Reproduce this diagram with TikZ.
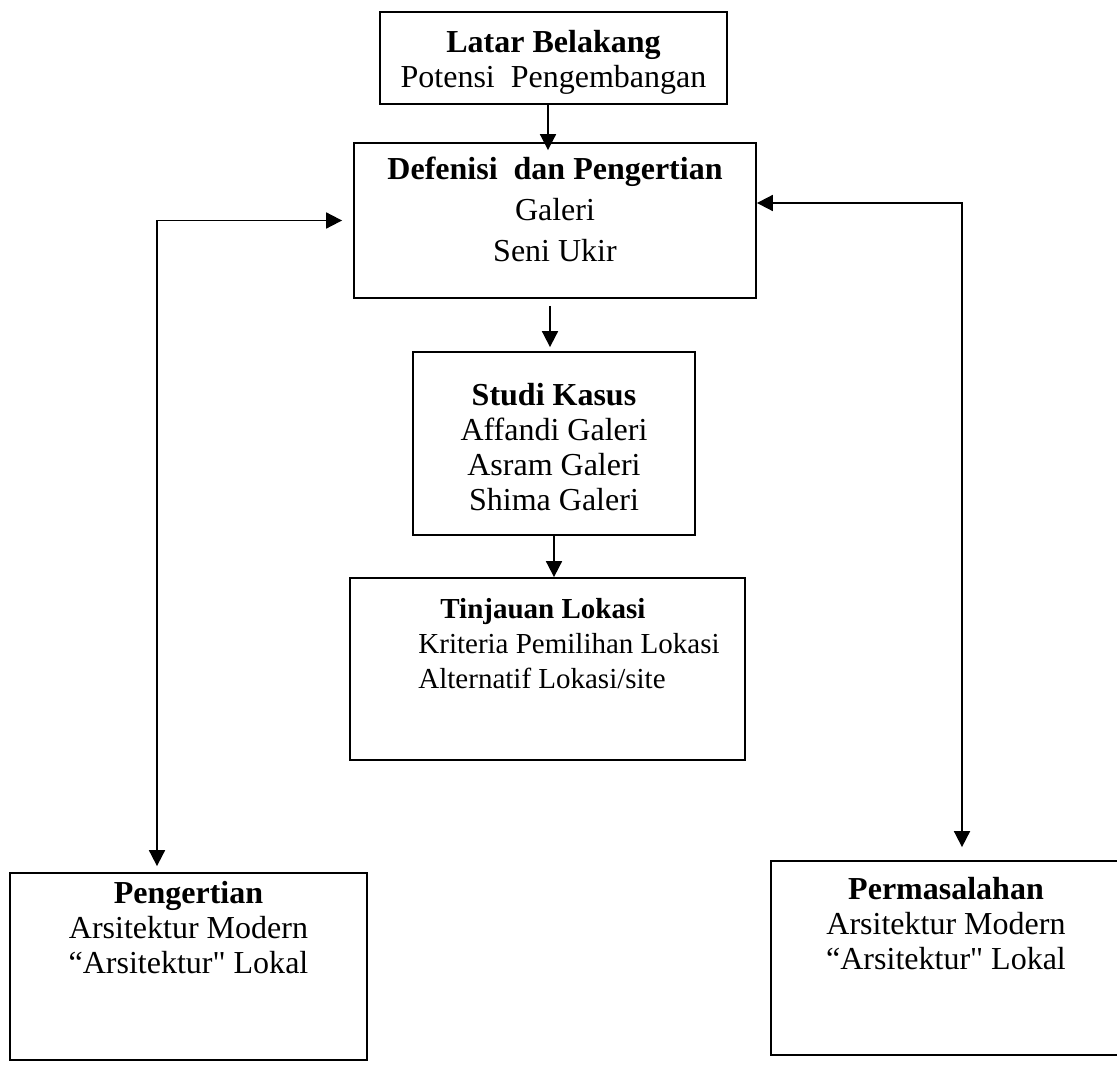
\documentclass[tikz,border=0pt]{standalone}
\usepackage{fontspec}
\setmainfont{Liberation Serif}
\usetikzlibrary{arrows.meta}

\tikzset{
  box/.style={draw, line width=0.9pt, inner sep=0pt},
  txt/.style={align=center, inner sep=0pt, font=\fontsize{16}{17.5}\selectfont},
  arr/.style={line width=0.9pt, -{Triangle[length=8pt,width=8pt]}},
  both/.style={line width=0.9pt, {Triangle[length=8pt,width=8pt]}-{Triangle[length=8pt,width=8pt]}}
}

\begin{document}
\begin{tikzpicture}[x=0.5pt,y=-0.5pt]

\useasboundingbox (0,0) rectangle (1117,1064);

% middle column
\node[box, minimum width=173.5pt, minimum height=46pt] at (553.5,58) (latar) {};
\node[txt, anchor=north] at (553.5,30) (latarT) {\textbf{Latar Belakang}\\Potensi\ \ Pengembangan};

\node[box, minimum width=201pt, minimum height=77.5pt] at (555,220.5) (defin) {};
\node[txt, anchor=north, font=\fontsize{16}{20.5}\selectfont] at (555,157) (definT) {\textbf{Defenisi\ \ dan Pengertian}\\Galeri\\Seni Ukir};

\node[box, minimum width=141pt, minimum height=91.5pt] at (554,443.5) (studi) {};
\node[txt, anchor=north] at (554,383) (studiT) {\textbf{Studi Kasus}\\Affandi Galeri\\Asram Galeri\\Shima Galeri};

\node[box, minimum width=197.5pt, minimum height=91pt] at (547.5,669) (tinj) {};
\node[txt, align=left, anchor=north west, font=\fontsize{14.5}{17.5}\selectfont] at (418,598) (tinjT) {\hspace*{11pt}\textbf{Tinjauan Lokasi}\\Kriteria Pemilihan Lokasi\\Alternatif Lokasi/site};

%%%%%%%%%%%%%%%%%%%%%%%%%%%%%%%%%%%%%%
% bottom corners
\node[box, minimum width=178.5pt, minimum height=93.5pt] at (188.5,966.5) (peng) {};
\node[txt, anchor=north] at (188.5,881) (pengT) {\textbf{Pengertian}\\Arsitektur Modern\\``Arsitektur\textquotedbl{} Lokal};

\node[box, minimum width=175pt, minimum height=97pt] at (946,958) (perm) {};
\node[txt, anchor=north] at (946,877) (permT) {\textbf{Permasalahan}\\Arsitektur Modern\\``Arsitektur\textquotedbl{} Lokal};

\coordinate (lc) at (157,219);
\coordinate (rc) at (962,203);

% arrows
\draw[arr, shorten >=-4pt] ([xshift=-2.75pt]latar.south) -- ([xshift=-2.75pt]latar.south |- defin.north);
\draw[arr, shorten <=3.5pt, shorten >=2pt] ([xshift=-2.5pt]defin.south) -- ([xshift=-2.5pt]defin.south |- studi.north);
\draw[arr] (studi.south) -- (studi.south |- tinj.north);

\draw[both, shorten <=5.5pt, shorten >=3pt] (defin.west) -| (peng.north -| lc);
\draw[both, shorten >=6.5pt] (defin.east |- rc) -| (perm.north -| rc);

\end{tikzpicture}
\end{document}
